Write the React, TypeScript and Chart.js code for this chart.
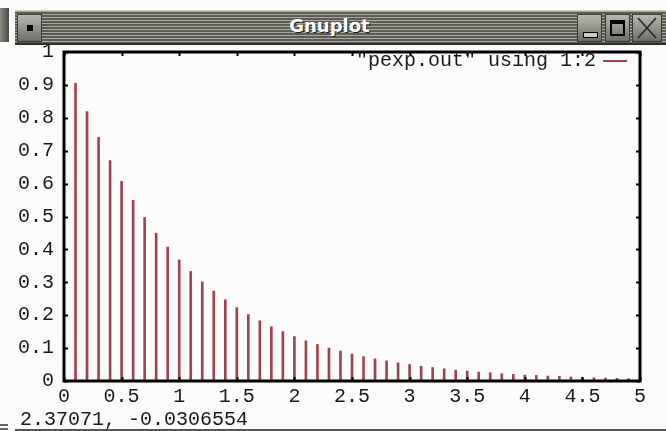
import React, { useEffect, useRef } from "react";
import { Chart, registerables } from "chart.js";

Chart.register(...registerables);

const windowTitle = "Gnuplot";
const legendLabel = '"pexp.out" using 1:2';
const statusText = "2.37071, -0.0306554";

const xValues = [
  0.1, 0.2, 0.3, 0.4, 0.5, 0.6, 0.7, 0.8, 0.9, 1.0,
  1.1, 1.2, 1.3, 1.4, 1.5, 1.6, 1.7, 1.8, 1.9, 2.0,
  2.1, 2.2, 2.3, 2.4, 2.5, 2.6, 2.7, 2.8, 2.9, 3.0,
  3.1, 3.2, 3.3, 3.4, 3.5, 3.6, 3.7, 3.8, 3.9, 4.0,
  4.1, 4.2, 4.3, 4.4, 4.5, 4.6, 4.7, 4.8, 4.9,
];
const yValues = [
  0.905, 0.819, 0.741, 0.670, 0.607, 0.549, 0.497, 0.449, 0.407, 0.368,
  0.333, 0.301, 0.273, 0.247, 0.223, 0.202, 0.183, 0.165, 0.150, 0.135,
  0.122, 0.111, 0.100, 0.091, 0.082, 0.074, 0.067, 0.061, 0.055, 0.050,
  0.045, 0.041, 0.037, 0.033, 0.030, 0.027, 0.025, 0.022, 0.020, 0.018,
  0.017, 0.015, 0.014, 0.012, 0.011, 0.010, 0.009, 0.008, 0.007,
];
const xTicks = [0, 0.5, 1, 1.5, 2, 2.5, 3, 3.5, 4, 4.5, 5];
const yTicks = [0, 0.1, 0.2, 0.3, 0.4, 0.5, 0.6, 0.7, 0.8, 0.9, 1];

const BAR_COLOR = "#a0434f";
const FONT = "'Liberation Mono', 'DejaVu Sans Mono', monospace";
const FONT_SIZE = 20;

const gnuplotFrame = {
  id: "gnuplotFrame",
  afterDraw(chart: any) {
    const { ctx, chartArea: a, scales } = chart;
    ctx.save();
    ctx.strokeStyle = "#000";
    ctx.lineWidth = 2;
    xTicks.forEach((v) => {
      const px = Math.round(scales.x.getPixelForValue(v)) + 0.5;
      ctx.beginPath();
      ctx.moveTo(px, a.bottom);
      ctx.lineTo(px, a.bottom - 4);
      ctx.moveTo(px, a.top);
      ctx.lineTo(px, a.top + 4);
      ctx.stroke();
    });
    yTicks.forEach((v) => {
      const py = Math.round(scales.y.getPixelForValue(v)) + 0.5;
      ctx.beginPath();
      ctx.moveTo(a.left, py);
      ctx.lineTo(a.left + 4, py);
      ctx.moveTo(a.right, py);
      ctx.lineTo(a.right - 4, py);
      ctx.stroke();
    });
    ctx.lineWidth = 3;
    ctx.strokeRect(a.left, a.top, a.right - a.left, a.bottom - a.top);
    ctx.font = `${FONT_SIZE}px ${FONT}`;
    ctx.fillStyle = "#1a1a1a";
    ctx.textAlign = "right";
    ctx.textBaseline = "middle";
    const ly = a.top + 9;
    ctx.fillText(legendLabel, a.right - 44, ly);
    ctx.strokeStyle = BAR_COLOR;
    ctx.lineWidth = 2;
    ctx.beginPath();
    ctx.moveTo(a.right - 37, ly);
    ctx.lineTo(a.right - 13, ly);
    ctx.stroke();
    ctx.restore();
  },
};

function ChartCanvas() {
  const ref = useRef<HTMLCanvasElement | null>(null);
  useEffect(() => {
    if (!ref.current) return;
    const chart = new Chart(ref.current, {
      type: "bar",
      data: {
        datasets: [
          {
            label: legendLabel,
            data: xValues.map((x, i) => ({ x, y: yValues[i] })),
            backgroundColor: BAR_COLOR,
            borderWidth: 0,
            barThickness: 2,
          },
        ],
      },
      options: {
        animation: false,
        responsive: false,
        devicePixelRatio: 1,
        layout: { padding: { left: 0, right: 26, top: 52, bottom: 22 } },
        plugins: { legend: { display: false }, tooltip: { enabled: false } },
        scales: {
          x: {
            type: "linear",
            min: 0,
            max: 5,
            offset: false,
            grid: { display: false, drawTicks: false },
            border: { display: false },
            afterBuildTicks: (s: any) => {
              s.ticks = xTicks.map((v) => ({ value: v }));
            },
            afterFit: (s: any) => {
              s.height = 28;
            },
            ticks: {
              padding: 4,
              maxRotation: 0,
              autoSkip: false,
              color: "#1a1a1a",
              font: { family: FONT, size: FONT_SIZE },
              callback: (v: any) => String(v),
            },
          },
          y: {
            min: 0,
            max: 1,
            grid: { display: false, drawTicks: false },
            border: { display: false },
            afterBuildTicks: (s: any) => {
              s.ticks = yTicks.map((v) => ({ value: v }));
            },
            afterFit: (s: any) => {
              s.width = 64;
            },
            ticks: {
              padding: 10,
              autoSkip: false,
              color: "#1a1a1a",
              font: { family: FONT, size: FONT_SIZE },
              callback: (v: any) => String(v),
            },
          },
        },
      },
      plugins: [gnuplotFrame],
    } as any);
    return () => chart.destroy();
  }, []);
  return (
    <canvas
      ref={ref}
      width={666}
      height={431}
      style={{ position: "absolute", left: 0, top: 0, width: 666, height: 431 }}
    />
  );
}

const btn: React.CSSProperties = {
  position: "absolute",
  top: 3,
  width: 25,
  height: 28,
  background: "linear-gradient(#b8b8b0, #6e6e66)",
  border: "1px solid #3a3a34",
  boxSizing: "border-box",
};

export default function App() {
  return (
    <div
      style={{
        position: "fixed",
        left: 0,
        top: 0,
        width: 666,
        height: 431,
        background: "#fcfcfc",
        overflow: "hidden",
      }}
    >
      <ChartCanvas />
      <div
        style={{
          position: "absolute",
          left: 0,
          top: 8,
          width: 9,
          height: 34,
          background: "linear-gradient(90deg,#8a8a82,#4a4a44)",
        }}
      />
      <div style={{ position: "absolute", left: 0, top: 424, width: 8, height: 2, background: "#666" }} />
      <div style={{ position: "absolute", left: 0, top: 428, width: 8, height: 2, background: "#666" }} />
      <div
        style={{
          position: "absolute",
          left: 15,
          top: 10,
          width: 651,
          height: 35,
          background:
            "repeating-linear-gradient(180deg,#a8a8a0 0px,#a8a8a0 1px,#5c5c55 1px,#5c5c55 3px)",
          borderTop: "1px solid #d0d0c8",
          borderBottom: "2px solid #2e2e2a",
          boxSizing: "border-box",
        }}
      >
        <div style={{ ...btn, left: 2 }}>
          <div
            style={{
              position: "absolute",
              left: 9,
              top: 10,
              width: 6,
              height: 6,
              background: "#000",
            }}
          />
        </div>
        <div
          style={{
            position: "absolute",
            left: 0,
            right: 0,
            top: 4,
            textAlign: "center",
            fontFamily: "'DejaVu Sans', sans-serif",
            fontWeight: "bold",
            fontSize: 18,
            color: "#ffffff",
            textShadow: "1px 1px 0 #222",
            paddingRight: 22,
          }}
        >
          {windowTitle}
        </div>
        <div style={{ ...btn, left: 562 }}>
          <div
            style={{
              position: "absolute",
              left: 5,
              top: 17,
              width: 13,
              height: 4,
              border: "1px solid #000",
              background: "#ccc",
            }}
          />
        </div>
        <div style={{ ...btn, left: 590 }}>
          <div
            style={{
              position: "absolute",
              left: 4,
              top: 5,
              width: 15,
              height: 16,
              border: "2px solid #000",
              borderTopWidth: 4,
              boxSizing: "border-box",
            }}
          />
        </div>
        <div style={{ ...btn, left: 617, width: 30 }}>
          <svg width="28" height="26" style={{ position: "absolute", left: 0, top: 0 }}>
            <line x1="5" y1="3" x2="23" y2="23" stroke="#222" strokeWidth="1.5" />
            <line x1="23" y1="3" x2="5" y2="23" stroke="#222" strokeWidth="1.5" />
          </svg>
        </div>
      </div>
      <div
        style={{
          position: "absolute",
          left: 20,
          top: 410,
          fontFamily: FONT,
          fontSize: FONT_SIZE,
          color: "#1a1a1a",
          lineHeight: "20px",
          whiteSpace: "pre",
        }}
      >
        {statusText}
      </div>
      <div style={{ position: "absolute", left: 15, top: 429, width: 651, height: 2, background: "#555" }} />
    </div>
  );
}
